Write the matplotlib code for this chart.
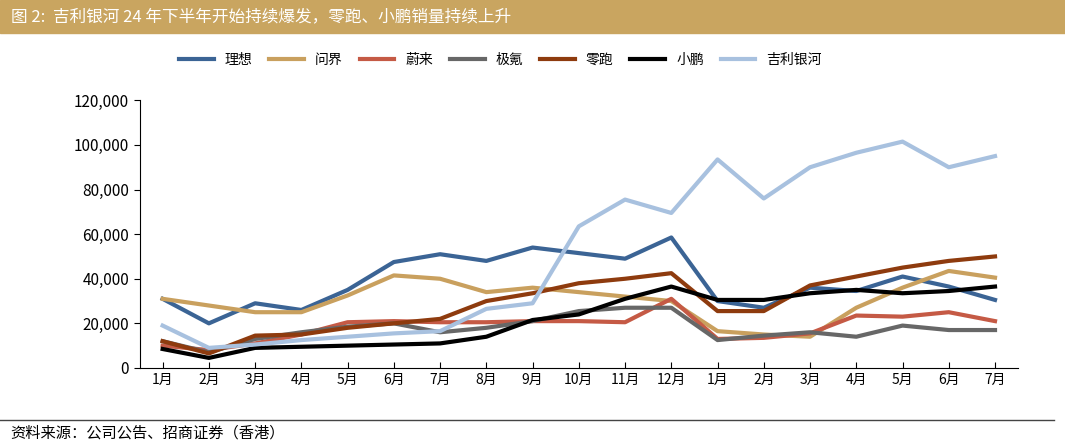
import matplotlib.pyplot as plt
import matplotlib.ticker as mticker

plt.rcParams['font.family'] = ['Noto Sans CJK SC', 'DejaVu Sans']

months = ["1月", "2月", "3月", "4月", "5月", "6月", "7月", "8月", "9月", "10月", "11月", "12月",
          "1月", "2月", "3月", "4月", "5月", "6月", "7月"]

lixiang = [31000, 20000, 29000, 26000, 35000, 47500, 51000, 48000, 54000, 51500, 49000, 58500,
           30000, 27000, 36000, 34500, 41000, 36500, 30500]
wenjie = [31000, 28000, 25000, 25000, 32500, 41500, 40000, 34000, 36000, 34000, 32000, 30000,
          16500, 15000, 14000, 27000, 36000, 43500, 40500]
weilai = [10000, 8000, 11000, 15000, 20500, 21000, 20500, 20500, 21000, 21000, 20500, 31000,
          13000, 13500, 15500, 23500, 23000, 25000, 21000]
jike = [12000, 7000, 13000, 16000, 18500, 20000, 16000, 18000, 21000, 25500, 27000, 27000,
        12500, 14500, 16000, 14000, 19000, 17000, 17000]
lingpao = [12000, 6500, 14500, 15000, 18000, 20000, 22000, 30000, 33500, 38000, 40000, 42500,
           25500, 25500, 37000, 41000, 45000, 48000, 50000]
xiaopeng = [8500, 4500, 9000, 9500, 10000, 10500, 11000, 14000, 21500, 24000, 31000, 36500,
            30500, 30500, 33500, 35000, 33500, 34500, 36500]
galaxy = [19000, 9000, 10500, 12500, 14000, 15500, 16500, 26500, 29000, 63500, 75500, 69500,
          93500, 76000, 90000, 96500, 101500, 90000, 95000]

series = [
    ("理想", lixiang, "#3B6495"),
    ("问界", wenjie, "#C9A05E"),
    ("蔚来", weilai, "#C55A45"),
    ("极氪", jike, "#676767"),
    ("零跑", lingpao, "#8E3B0E"),
    ("小鹏", xiaopeng, "#000000"),
    ("吉利银河", galaxy, "#A8C1DF"),
]

fig = plt.figure(figsize=(10.65, 4.46), dpi=100)
ax = fig.add_axes([0.131, 0.175, 0.825, 0.60])

x = range(len(months))
for name, vals, color in series:
    ax.plot(x, vals, color=color, lw=3, label=name)

ax.set_ylim(0, 120000)
ax.set_xlim(-0.5, len(months) - 0.5)
ax.set_xticks(list(x))
ax.set_xticklabels(months, fontsize=10)
ax.yaxis.set_major_formatter(mticker.FuncFormatter(lambda v, p: f"{int(v):,}"))
ax.tick_params(axis='y', labelsize=11, length=4, direction='out')
ax.tick_params(axis='x', length=4, direction='in')
for s in ['top', 'right']:
    ax.spines[s].set_visible(False)

fig.legend(loc='upper center', bbox_to_anchor=(0.47, 0.91), ncol=7, frameon=False,
           fontsize=10, handlelength=2.5, columnspacing=1.2)

# title bar
fig.patches.append(plt.Rectangle((0, 0.925), 1, 0.075, transform=fig.transFigure,
                                 color="#C9A560", zorder=0))
fig.text(0.01, 0.962, "图 2:  吉利银河 24 年下半年开始持续爆发，零跑、小鹏销量持续上升",
         color="white", fontsize=12, va='center')

# source line
fig.add_artist(plt.Line2D([0.0, 0.99], [0.058, 0.058], transform=fig.transFigure,
                          color="#444444", lw=1))
fig.text(0.01, 0.028, "资料来源：公司公告、招商证券（香港）", fontsize=11, style='italic',
         va='center')

fig.savefig("out.png")
